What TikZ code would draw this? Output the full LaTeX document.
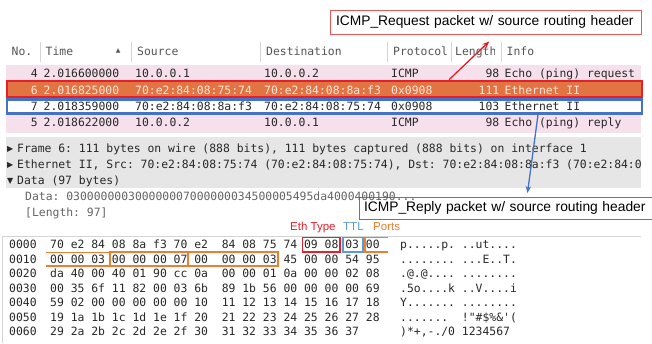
\documentclass[tikz,border=0pt]{standalone}
\usepackage{fontspec}
\setmainfont{Liberation Sans}
\setmonofont{DejaVu Sans Mono}
\newfontfamily\symfont{DejaVu Sans}
\usetikzlibrary{arrows.meta}

\definecolor{rowpink}{RGB}{245,224,236}
\definecolor{rowsel}{RGB}{226,116,68}
\definecolor{seltext}{RGB}{252,230,218}
\definecolor{selred}{RGB}{230,30,40}
\definecolor{selblue}{RGB}{68,114,196}
\definecolor{panegray}{RGB}{230,230,230}
\definecolor{celltext}{RGB}{40,40,40}
\definecolor{headtext}{RGB}{85,85,85}
\definecolor{datagray}{RGB}{100,100,100}
\definecolor{linegray}{RGB}{212,212,212}
\definecolor{reqred}{RGB}{232,90,90}
\definecolor{replyblue}{RGB}{80,120,195}
\definecolor{ethred}{RGB}{232,30,40}
\definecolor{ttlblue}{RGB}{91,155,213}
\definecolor{portorange}{RGB}{237,125,49}

\tikzset{cell/.style={inner sep=0pt, anchor=base west, text=celltext, font=\ttfamily\fontsize{11.4}{13}\selectfont\frenchspacing}}
\tikzset{cellr/.style={cell, anchor=base east}}
\tikzset{head/.style={cell, text=headtext}}
\tikzset{tree mark/.style={inner sep=0pt, anchor=base west, text=celltext, font=\symfont\fontsize{8}{8}\selectfont}}
\tikzset{row rectangle/.style={inner sep=0pt, minimum width=635pt}}
\tikzset{tag text/.style={inner sep=0pt, anchor=base west, font=\fontsize{11.5}{13}\selectfont}}
\tikzset{callout/.style={draw, line width=1pt, fill=white, inner xsep=6pt, inner ysep=0pt, text width=299pt, align=left, font=\fontsize{13.8}{16}\selectfont}}
\tikzset{hex box/.style={draw, line width=1.6pt, inner sep=0pt, minimum height=14.4pt}}
\tikzset{port line/.style={draw=portorange, line width=1.6pt}}
\tikzset{sepline/.style={draw=linegray, line width=0.8pt}}
\tikzset{callout arrow/.style={line width=1.3pt, -{Stealth[length=7pt, width=5.5pt]}}}

\begin{document}
\begin{tikzpicture}[x=1pt, y=-1pt]
\useasboundingbox[fill=white] (0,0) rectangle (652,343);

% packet list
\node[row rectangle, fill=rowpink, minimum height=15.5pt] (row4) at (323.5,72.5) {};
\node[row rectangle, fill=rowpink, minimum height=18.5pt] (row5) at (323.5,123.5) {};
\node[row rectangle, fill=rowsel, draw=selred, line width=2.5pt, minimum height=16pt] (row6) at (324.25,89) {};
\node[row rectangle, fill=white, draw=selblue, line width=2.5pt, minimum height=14pt] (row7) at (324.5,106.5) {};

\node[head] (hno) at (11.5,55.5) {No.};
\node[head] (htime) at (45.5,55.5) {Time};
\node[inner sep=0pt, text=headtext, font=\symfont\fontsize{6}{6}\selectfont] (hsort) at (118.3,50.5) {▲};
\node[head] (hsrc) at (137,55.5) {Source};
\node[head] (hdst) at (266,55.5) {Destination};
\node[head] (hproto) at (393,55.5) {Protocol};
\begin{scope}
\clip (452,40) rectangle (494,64);
\node[head] (hlen) at (455,55.5) {Length};
\end{scope}
\node[head] (hinfo) at (506.5,55.5) {Info};
\foreach \x in {40.5,131.5,260.5,387,451.7,501.7}
	\draw[sepline] (\x,42) -- (\x,61.5);

\node[cellr] (r4no) at (38,77.3) {4};
\node[cell] (r4time) at (43.5,77.3) {2.016600000};
\node[cell] (r4src) at (135,77.3) {10.0.0.1};
\node[cell] (r4dst) at (264,77.3) {10.0.0.2};
\node[cell] (r4proto) at (391,77.3) {ICMP};
\node[cellr] (r4len) at (499.5,77.3) {98};
\node[cell] (r4info) at (504.5,77.3) {Echo (ping) request};

\node[cellr, text=seltext] (r6no) at (38,94) {6};
\node[cell, text=seltext] (r6time) at (43.5,94) {2.016825000};
\node[cell, text=seltext] (r6src) at (135,94) {70:e2:84:08:75:74};
\node[cell, text=seltext] (r6dst) at (264,94) {70:e2:84:08:8a:f3};
\node[cell, text=seltext] (r6proto) at (391,94) {0x0908};
\node[cellr, text=seltext] (r6len) at (499.5,94) {111};
\node[cell, text=seltext] (r6info) at (504.5,94) {Ethernet II};

\node[cellr] (r7no) at (38,110.3) {7};
\node[cell] (r7time) at (43.5,110.3) {2.018359000};
\node[cell] (r7src) at (135,110.3) {70:e2:84:08:8a:f3};
\node[cell] (r7dst) at (264,110.3) {70:e2:84:08:75:74};
\node[cell] (r7proto) at (391,110.3) {0x0908};
\node[cellr] (r7len) at (499.5,110.3) {103};
\node[cell] (r7info) at (504.5,110.3) {Ethernet II};

\node[cellr] (r5no) at (38,126.7) {5};
\node[cell] (r5time) at (43.5,126.7) {2.018622000};
\node[cell] (r5src) at (135,126.7) {10.0.0.2};
\node[cell] (r5dst) at (264,126.7) {10.0.0.1};
\node[cell] (r5proto) at (391,126.7) {ICMP};
\node[cellr] (r5len) at (499.5,126.7) {98};
\node[cell] (r5info) at (504.5,126.7) {Echo (ping) reply};

% packet details
\node[row rectangle, fill=panegray, minimum height=51pt] (detail) at (323.5,162.5) {};
\begin{scope}
\clip (6,137) rectangle (640,188);
\node[tree mark] (fmark) at (7,151.5) {▶};
\node[cell] (frame) at (17,152) {Frame 6: 111 bytes on wire (888 bits), 111 bytes captured (888 bits) on interface 1};
\node[tree mark] (emark) at (7,167.5) {▶};
\node[cell] (ether) at (17,168) {Ethernet II, Src: 70:e2:84:08:75:74 (70:e2:84:08:75:74), Dst: 70:e2:84:08:8a:f3 (70:e2:84:08:8a:f3)};
\node[tree mark] (dmark) at (7,183.5) {▼};
\node[cell] (data) at (17,184) {Data (97 bytes)};
\end{scope}
\node[callout, draw=replyblue, text width=289pt, inner xsep=5pt, minimum height=22pt] (reply) at (508.5,208) {ICMP\_Reply packet w/ source routing header};
\node[cell, text=datagray] (dval) at (25,200) {Data: 030000000300000007000000034500005495da4000400190...};
\node[cell, text=datagray] (dlen) at (25,216) {[Length: 97]};

\node[tag text, text=ethred] (teth) at (290,230) {Eth Type};
\node[tag text, text=ttlblue] (tttl) at (343,230) {TTL};
\node[tag text, text=portorange] (tports) at (373,230) {Ports};

% packet bytes
\draw[sepline] (2,343) -- (2,236.5) -- (641,236.5);
\node[cell] (h0off) at (9,248.5) {0000};
\node[cell] (h0hex) at (50,248.5) {70 e2 84 08 8a f3 70 e2~ 84 08 75 74 09 08 03 00};
\node[cell] (h0asc) at (400,248.5) {p.....p. ..ut....};
\node[cell] (h1off) at (9,263) {0010};
\node[cell] (h1hex) at (50,263) {00 00 03 00 00 00 07 00~ 00 00 03 45 00 00 54 95};
\node[cell] (h1asc) at (400,263) {........ ...E..T.};
\node[cell] (h2off) at (9,277.5) {0020};
\node[cell] (h2hex) at (50,277.5) {da 40 00 40 01 90 cc 0a~ 00 00 01 0a 00 00 02 08};
\node[cell] (h2asc) at (400,277.5) {.@.@.... ........};
\node[cell] (h3off) at (9,292) {0030};
\node[cell] (h3hex) at (50,292) {00 35 6f 11 82 00 03 6b~ 89 1b 56 00 00 00 00 69};
\node[cell] (h3asc) at (400,292) {.5o....k ..V....i};
\node[cell] (h4off) at (9,306.5) {0040};
\node[cell] (h4hex) at (50,306.5) {59 02 00 00 00 00 00 10~ 11 12 13 14 15 16 17 18};
\node[cell] (h4asc) at (400,306.5) {Y....... ........};
\node[cell] (h5off) at (9,321) {0050};
\node[cell] (h5hex) at (50,321) {19 1a 1b 1c 1d 1e 1f 20~ 21 22 23 24 25 26 27 28};
\node[cell] (h5asc) at (400,321) {.......~ !"\#\$\%\&'(};
\node[cell] (h6off) at (9,335.5) {0060};
\node[cell] (h6hex) at (50,335.5) {29 2a 2b 2c 2d 2e 2f 30~ 31 32 33 34 35 36 37};
\node[cell] (h6asc) at (400,335.5) {)*+,-./0 1234567};

\node[hex box, draw=ethred, minimum width=37.5pt] (ethbox) at (321.25,244.5) {};
\node[hex box, draw=ttlblue, minimum width=20pt] (ttlbox) at (353,244.5) {};
\draw[port line] (388,237.3) -- (365,237.3) -- (365,251.7) -- (388,251.7);
\draw[port line] (46,252.3) -- (110,252.3) -- (110,265.7) -- (46,265.7);
\node[hex box, draw=portorange, minimum width=78pt] (port2) at (149,259) {};
\node[hex box, draw=portorange, minimum width=90pt] (port3) at (233,259) {};

% callouts
\node[callout, draw=reqred, minimum height=24pt] (req) at (485.5,22) {ICMP\_Request packet w/ source routing header};
\coordinate (reqtail) at ([xshift=124.75pt]row6.north);
\draw[callout arrow, draw=selred, shorten >=10pt] (reqtail) -- ([xshift=11pt]req.south);
\coordinate (replytail) at ([xshift=213.5pt]row7.south);
\draw[callout arrow, draw=selblue, shorten >=3.5pt] (replytail) -- ([xshift=18.5pt]reply.north);

\end{tikzpicture}
\end{document}
